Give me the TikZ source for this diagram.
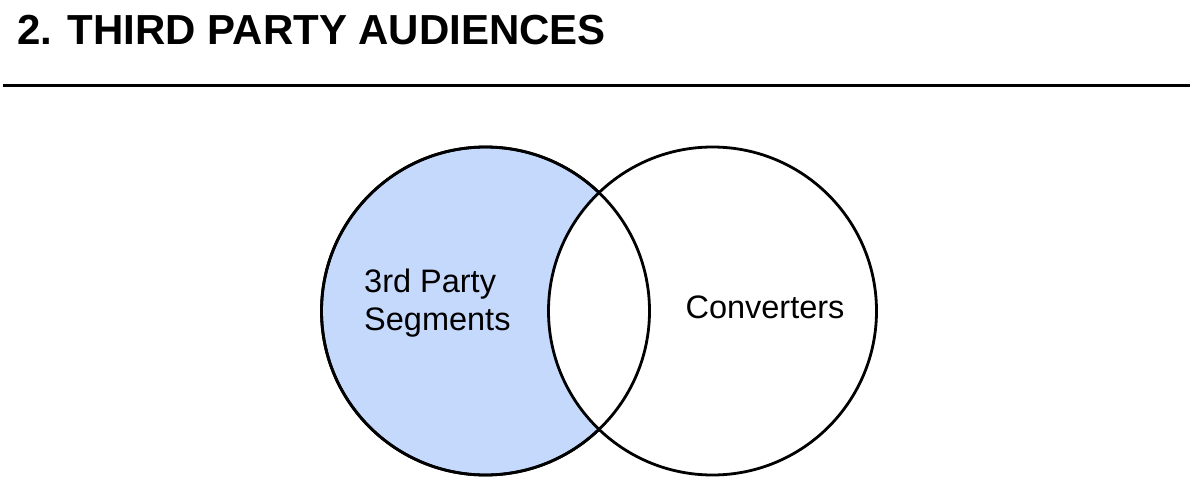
\documentclass[tikz,border=0pt]{standalone}
\usepackage{fontspec}
\setmainfont{Liberation Sans}
\usetikzlibrary{positioning}
\definecolor{lensblue}{RGB}{197,217,252}
\tikzset{
  venn/.style  = {circle, draw, line width=2.8pt, minimum size=328pt, inner sep=0},
  ttl/.style   = {anchor=base west, inner sep=0, font=\bfseries\fontsize{42}{42}\selectfont},
  lbl/.style   = {inner sep=0, font=\fontsize{32.5}{38}\selectfont},
  rule/.style  = {line width=3pt}
}
\begin{document}
\begin{tikzpicture}[x=1pt,y=-1pt]
  \useasboundingbox (0,0) rectangle (1190,492);

  \node[ttl] (title) at (17,45) {2. THIRD PARTY AUDIENCES};
  \draw[rule] (3,86) -- (1190,86);

  \node[venn, fill=lensblue] (seg) at (485.5,311) {};
  \node[venn, fill=white]    (conv) at (712.5,311) {};
  \draw[line width=2.8pt] (seg.center) circle[radius=164pt];

  \node[lbl, align=left, anchor=west] (segtxt) at (364,303) {3rd Party\\Segments};
  \node[lbl] (convtxt) at (765,307) {Converters};
\end{tikzpicture}
\end{document}
